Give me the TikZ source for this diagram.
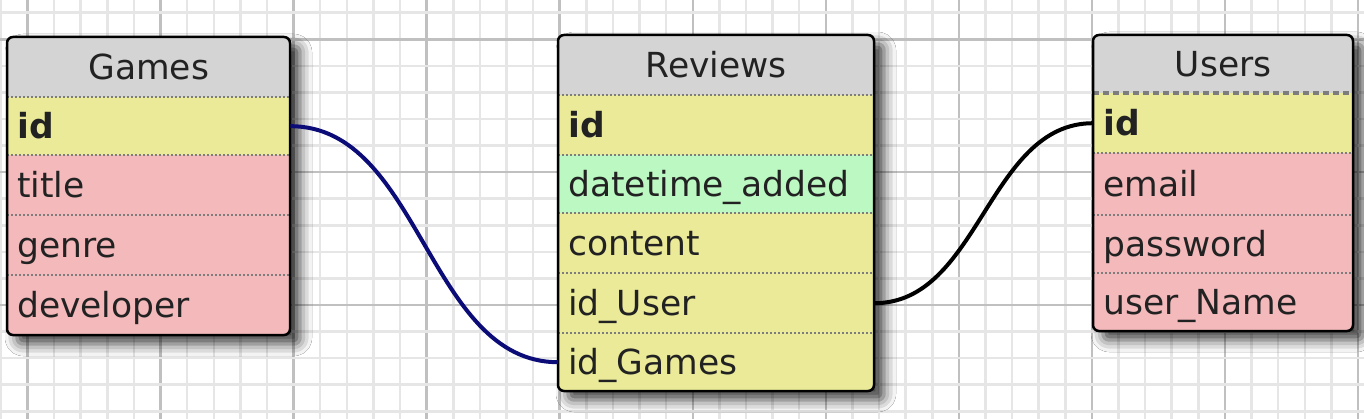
\documentclass[tikz,border=0pt]{standalone}
\usepackage{fontspec}
\setmainfont{DejaVu Sans}
\usetikzlibrary{shadows.blur}
\definecolor{hdr}{RGB}{212,212,212}
\definecolor{yel}{RGB}{234,234,153}
\definecolor{pnk}{RGB}{243,185,187}
\definecolor{grn}{RGB}{187,248,194}
\definecolor{txt}{RGB}{34,34,34}
\definecolor{navyline}{RGB}{12,12,120}
\definecolor{gminor}{RGB}{230,230,230}
\definecolor{gmajor}{RGB}{192,192,192}
\definecolor{divc}{RGB}{125,125,125}
\begin{document}
\begin{tikzpicture}[x=1pt,y=-1pt,
  cell/.style={rectangle, anchor=north west, inner xsep=10pt, inner ysep=0pt,
    text height=26pt, text depth=1pt,
    text=txt, font=\fontsize{34.5}{41}\selectfont, align=left},
  gw/.style={minimum width=283pt, text width=263pt},
  rw/.style={minimum width=316pt, text width=296pt},
  uw/.style={minimum width=260pt, text width=240pt},
  hcell/.style={cell, fill=hdr, align=center},
  divider/.style={draw=divc, line width=2pt, dash pattern=on 2pt off 2pt},
  thickdiv/.style={draw=divc, line width=3.5pt, dash pattern=on 6pt off 4pt},
  outline/.style={draw=black, line width=2.5pt, rounded corners=6pt},
  shadowbox/.style={fill=white, rounded corners=6pt,
    blur shadow={shadow xshift=10pt, shadow yshift=-9pt, shadow blur radius=12pt, shadow opacity=75}},
  link/.style={line width=4pt},
  gridminor/.style={draw=gminor, line width=2.5pt},
  gridmajor/.style={draw=gmajor, line width=2.5pt}
]
\useasboundingbox (0,0) rectangle (1364,419);
\fill[white] (0,0) rectangle (1364,419);
% grid
\foreach \i in {-1,...,51} {
  \pgfmathtruncatemacro{\m}{mod(\i+50,5)}
  \ifnum\m=0 \draw[gridmajor] ({27.5+\i*26.61},0) -- ({27.5+\i*26.61},419);
  \else \draw[gridminor] ({27.5+\i*26.61},0) -- ({27.5+\i*26.61},419); \fi
}
\foreach \j in {-1,...,15} {
  \pgfmathtruncatemacro{\m}{mod(\j+50,5)}
  \ifnum\m=0 \draw[gridmajor] (0,{39.3+\j*26.57}) -- (1364,{39.3+\j*26.57});
  \else \draw[gridminor] (0,{39.3+\j*26.57}) -- (1364,{39.3+\j*26.57}); \fi
}
% shadows
\path[shadowbox] (7,37) rectangle (290,335);
\path[shadowbox] (558,35) rectangle (874,391);
\path[shadowbox] (1093,35) rectangle (1353,331);
% Games
\begin{scope}
\clip[rounded corners=6pt] (7,37) rectangle (290,335);
\node[hcell, gw, minimum height=60pt] (g-h) at (7,37) {Games};
\node[cell, gw, fill=yel, minimum height=58pt] (g-id) at (7,97) {\textbf{id}};
\node[cell, gw, fill=pnk, minimum height=60pt] (g-title) at (7,155) {title};
\node[cell, gw, fill=pnk, minimum height=60pt] (g-genre) at (7,215) {genre};
\node[cell, gw, fill=pnk, minimum height=60pt] (g-dev) at (7,275) {developer};
\end{scope}
\draw[divider] (g-id.north west) -- (g-id.north east);
\draw[divider] (g-title.north west) -- (g-title.north east);
\draw[divider] (g-genre.north west) -- (g-genre.north east);
\draw[divider] (g-dev.north west) -- (g-dev.north east);
\draw[outline] (7,37) rectangle (290,335);
% Reviews
\begin{scope}
\clip[rounded corners=6pt] (558,35) rectangle (874,391);
\node[hcell, rw, minimum height=60pt] (r-h) at (558,35) {Reviews};
\node[cell, rw, fill=yel, minimum height=60pt] (r-id) at (558,95) {\textbf{id}};
\node[cell, rw, fill=grn, minimum height=58pt] (r-dt) at (558,155) {datetime\_added};
\node[cell, rw, fill=yel, minimum height=60pt] (r-content) at (558,213) {content};
\node[cell, rw, fill=yel, minimum height=60pt] (r-iduser) at (558,273) {id\_User};
\node[cell, rw, fill=yel, minimum height=58pt] (r-idgames) at (558,333) {id\_Games};
\end{scope}
\draw[divider] (r-id.north west) -- (r-id.north east);
\draw[divider] (r-dt.north west) -- (r-dt.north east);
\draw[divider] (r-content.north west) -- (r-content.north east);
\draw[divider] (r-iduser.north west) -- (r-iduser.north east);
\draw[divider] (r-idgames.north west) -- (r-idgames.north east);
\draw[outline] (558,35) rectangle (874,391);
% Users
\begin{scope}
\clip[rounded corners=6pt] (1093,35) rectangle (1353,331);
\node[hcell, uw, minimum height=58pt] (u-h) at (1093,35) {Users};
\node[cell, uw, fill=yel, minimum height=60pt] (u-id) at (1093,93) {\textbf{id}};
\node[cell, uw, fill=pnk, minimum height=62pt] (u-email) at (1093,153) {email};
\node[cell, uw, fill=pnk, minimum height=58pt] (u-pw) at (1093,215) {password};
\node[cell, uw, fill=pnk, minimum height=58pt] (u-name) at (1093,273) {user\_Name};
\end{scope}
\draw[thickdiv] (u-id.north west) -- (u-id.north east);
\draw[divider] (u-email.north west) -- (u-email.north east);
\draw[divider] (u-pw.north west) -- (u-pw.north east);
\draw[divider] (u-name.north west) -- (u-name.north east);
\draw[outline] (1093,35) rectangle (1353,331);
% connectors
\draw[link, draw=navyline] (g-id.east) .. controls +(130,0) and +(-130,0) .. (r-idgames.west);
\draw[link, draw=black] (r-iduser.east) .. controls +(105,0) and +(-105,0) .. (u-id.west);
\end{tikzpicture}
\end{document}
